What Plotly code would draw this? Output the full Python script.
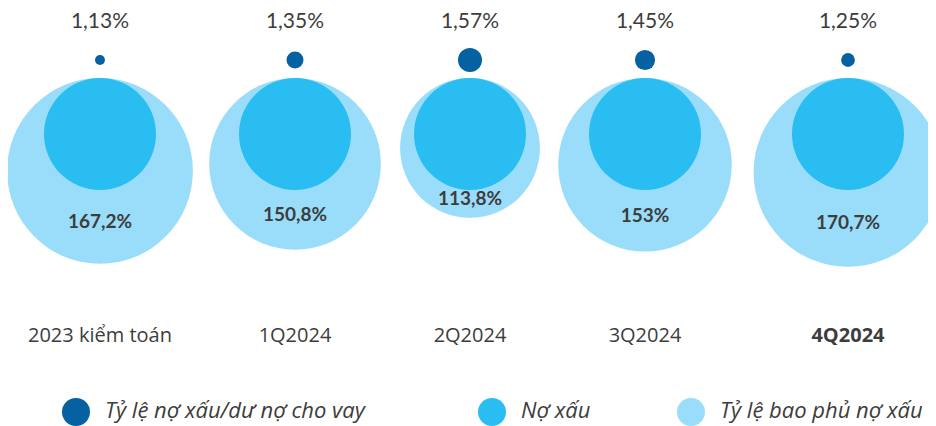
import plotly.graph_objects as go

# ---- data ----
categories = ["2023 kiểm toán", "1Q2024", "2Q2024", "3Q2024", "4Q2024"]
npl_ratio = [1.13, 1.35, 1.57, 1.45, 1.25]          # Tỷ lệ nợ xấu/dư nợ cho vay (%)
coverage_ratio = [167.2, 150.8, 113.8, 153.0, 170.7]  # Tỷ lệ bao phủ nợ xấu (%)
legend_names = ["Tỷ lệ nợ xấu/dư nợ cho vay", "Nợ xấu", "Tỷ lệ bao phủ nợ xấu"]

# ---- layout constants ----
X_POS = [100, 295, 470, 645, 848]
DARK, MID, LIGHT = "#0561a1", "#29bdf1", "#99ddfa"
TXT = "#3d3d3d"
FONT = "Lato"
FONT2 = "Open Sans"
TOP = 78          # common top of the big circles (px)
MID_R = 56        # radius of the "Nợ xấu" circle
DOT_Y = 60
OFF = 8           # page body margin
W, H = 936, 426


def fmt(v, nd):
    s = f"{v:.{nd}f}"
    if "." in s:
        s = s.rstrip("0").rstrip(".")
    return s.replace(".", ",") + "%"


light_r = [21 + 0.43 * v for v in coverage_ratio]
light_y = [TOP + r for r in light_r]
dot_d = [32 * (v - 0.82) for v in npl_ratio]

fig = go.Figure()

# big light circles (coverage)
fig.add_trace(go.Scatter(
    x=X_POS, y=light_y, mode="markers",
    marker=dict(size=[2 * r for r in light_r], color=LIGHT, opacity=1, line=dict(width=0)),
    cliponaxis=False, showlegend=False, hoverinfo="skip"))

# medium circles (Nợ xấu)
fig.add_trace(go.Scatter(
    x=X_POS, y=[TOP + MID_R] * len(X_POS), mode="markers",
    marker=dict(size=2 * MID_R, color=MID, opacity=1, line=dict(width=0)),
    cliponaxis=False, showlegend=False, hoverinfo="skip"))

# small dark dots (NPL ratio)
fig.add_trace(go.Scatter(
    x=X_POS, y=[DOT_Y] * len(X_POS), mode="markers",
    marker=dict(size=dot_d, color=DARK, opacity=1, line=dict(width=0)),
    cliponaxis=False, showlegend=False, hoverinfo="skip"))

# NPL labels
fig.add_trace(go.Scatter(
    x=X_POS, y=[23] * len(X_POS), mode="text",
    text=[fmt(v, 2) for v in npl_ratio],
    textfont=dict(family=FONT, size=21, color=TXT),
    cliponaxis=False, showlegend=False, hoverinfo="skip"))

# coverage labels
fig.add_trace(go.Scatter(
    x=X_POS, y=[y + 52 for y in light_y], mode="text",
    text=["<b>" + fmt(v, 1) + "</b>" for v in coverage_ratio],
    textfont=dict(family=FONT, size=19, color=TXT),
    cliponaxis=False, showlegend=False, hoverinfo="skip"))

# category labels
cat_text = categories[:-1] + ["<b>" + categories[-1] + "</b>"]
fig.add_trace(go.Scatter(
    x=X_POS, y=[337] * len(X_POS), mode="text", text=cat_text,
    textfont=dict(family=FONT2, size=20, color=TXT),
    cliponaxis=False, showlegend=False, hoverinfo="skip"))

# manual legend
LEG_X = [76, 492, 691]
LEG_Y = 412
fig.add_trace(go.Scatter(
    x=LEG_X, y=[LEG_Y] * 3, mode="markers",
    marker=dict(size=28, color=[DARK, MID, LIGHT], opacity=1, line=dict(width=0)),
    cliponaxis=False, showlegend=False, hoverinfo="skip"))
fig.add_trace(go.Scatter(
    x=[lx + 29 for lx in LEG_X], y=[LEG_Y] * 3, mode="text",
    text=["<i>" + n + "</i>" for n in legend_names], textposition="middle right",
    textfont=dict(family=FONT2, size=22, color=TXT),
    cliponaxis=False, showlegend=False, hoverinfo="skip"))

fig.update_layout(
    width=W - OFF, height=H - OFF,
    margin=dict(l=0, r=0, t=0, b=0, pad=0),
    paper_bgcolor="white", plot_bgcolor="white",
    xaxis=dict(range=[OFF, W], visible=False, fixedrange=True),
    yaxis=dict(range=[H, OFF], visible=False, fixedrange=True),
    showlegend=False,
)

fig.write_html("out.html")
